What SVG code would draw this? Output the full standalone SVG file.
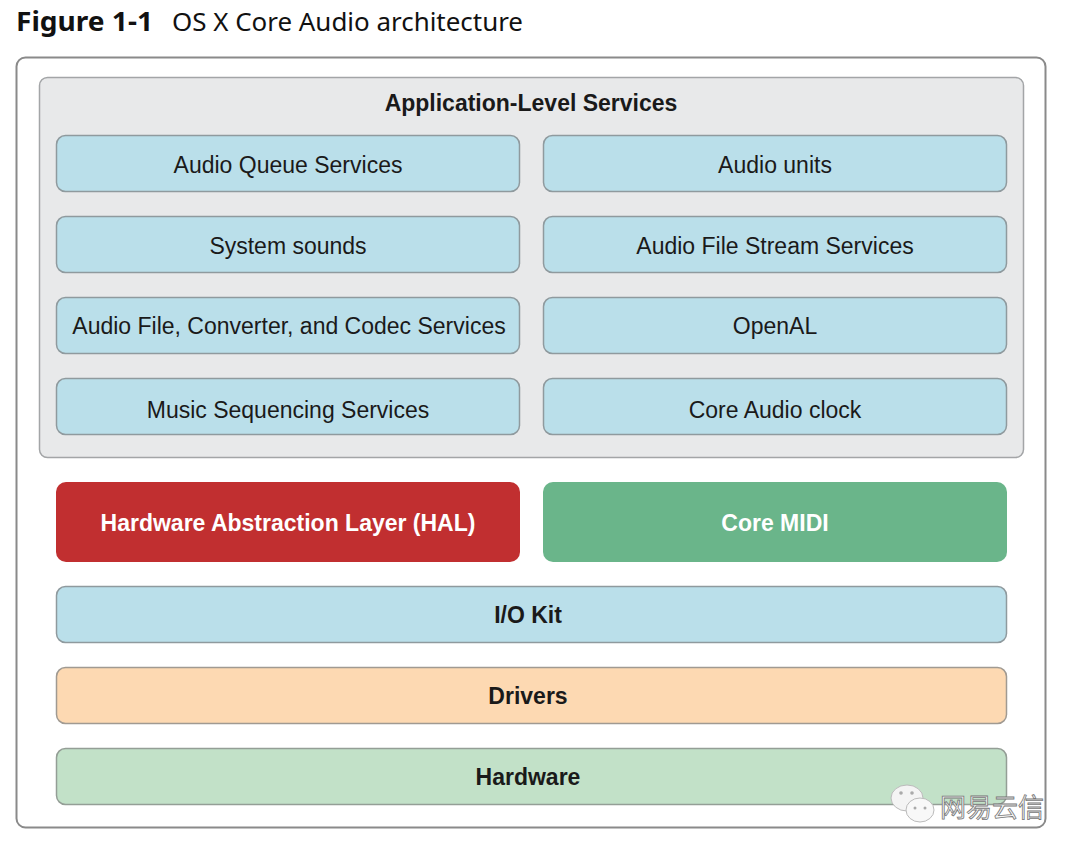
<svg xmlns="http://www.w3.org/2000/svg" width="1080" height="854" viewBox="0 0 1080 854">
<style>
.t{font-family:"Liberation Sans",Arial,sans-serif;font-size:23px;fill:#1a1a1a;text-anchor:middle}
.b{font-weight:bold}
.w{fill:#ffffff}
.blue{fill:#badfea;stroke:#8f9a9e;stroke-width:1.5}
.fig{font-family:"Noto Sans","Open Sans",sans-serif;fill:#111}
</style>
<rect width="1080" height="854" fill="#ffffff"/>
<text x="16" y="31" class="fig" font-size="27" font-weight="bold" textLength="137" lengthAdjust="spacingAndGlyphs">Figure 1-1</text>
<text x="172" y="31" class="fig" font-size="26" textLength="351" lengthAdjust="spacingAndGlyphs">OS X Core Audio architecture</text>
<g id="frame"><rect x="16.5" y="57.5" width="1029" height="770" rx="9" fill="#ffffff" stroke="#8a8a8a" stroke-width="2"/></g>
<g id="app-services">
<rect x="39.5" y="77.5" width="984" height="380" rx="8" fill="#e8e9ea" stroke="#a3a5a7" stroke-width="1.5"/>
<text x="531" y="111" class="t b">Application-Level Services</text>
</g>
<g id="aqs"><rect x="56.5" y="135.5" width="463" height="56" rx="9" class="blue"/><text x="288" y="173" class="t">Audio Queue Services</text></g>
<g id="au"><rect x="543.5" y="135.5" width="463" height="56" rx="9" class="blue"/><text x="775" y="173" class="t">Audio units</text></g>
<g id="sys"><rect x="56.5" y="216.5" width="463" height="56" rx="9" class="blue"/><text x="288" y="254" class="t">System sounds</text></g>
<g id="afs"><rect x="543.5" y="216.5" width="463" height="56" rx="9" class="blue"/><text x="775" y="254" class="t">Audio File Stream Services</text></g>
<g id="afc"><rect x="56.5" y="297.5" width="463" height="56" rx="9" class="blue"/><text x="289" y="334" class="t">Audio File, Converter, and Codec Services</text></g>
<g id="openal"><rect x="543.5" y="297.5" width="463" height="56" rx="9" class="blue"/><text x="775" y="334" class="t">OpenAL</text></g>
<g id="mss"><rect x="56.5" y="378.5" width="463" height="56" rx="9" class="blue"/><text x="288" y="418" class="t">Music Sequencing Services</text></g>
<g id="clock"><rect x="543.5" y="378.5" width="463" height="56" rx="9" class="blue"/><text x="775" y="418" class="t">Core Audio clock</text></g>
<g id="hal"><rect x="56" y="482" width="464" height="80" rx="10" fill="#c12f30"/><text x="288" y="531" class="t b w">Hardware Abstraction Layer (HAL)</text></g>
<g id="midi"><rect x="543" y="482" width="464" height="80" rx="10" fill="#6ab58a"/><text x="775" y="531" class="t b w">Core MIDI</text></g>
<g id="iokit"><rect x="56.5" y="586.5" width="950" height="56" rx="9" class="blue"/><text x="528" y="623" class="t b">I/O Kit</text></g>
<g id="drivers"><rect x="56.5" y="667.5" width="950" height="56" rx="9" fill="#fdd9b2" stroke="#a09a92" stroke-width="1.5"/><text x="528" y="704" class="t b">Drivers</text></g>
<g id="hardware"><rect x="56.5" y="748.5" width="950" height="56" rx="9" fill="#c2e1c8" stroke="#949e96" stroke-width="1.5"/><text x="528" y="785" class="t b">Hardware</text></g>
<g id="connectors"></g>
<g id="watermark">
<ellipse cx="907" cy="798" rx="16" ry="13" fill="#f4f4f4" stroke="#bbbbbb" stroke-width="1"/>
<ellipse cx="920" cy="810" rx="14" ry="12" fill="#f8f8f8" stroke="#bbbbbb" stroke-width="1"/>
<circle cx="901" cy="793" r="1.8" fill="#aaa"/><circle cx="912" cy="793" r="1.8" fill="#aaa"/>
<circle cx="915" cy="808" r="1.5" fill="#aaa"/><circle cx="925" cy="808" r="1.5" fill="#aaa"/>
<text x="940" y="817" font-family="Noto Sans CJK SC,sans-serif" font-size="26" fill="#f6f6f6" stroke="#777" stroke-width="0.8">网易云信</text>
</g>
</svg>
